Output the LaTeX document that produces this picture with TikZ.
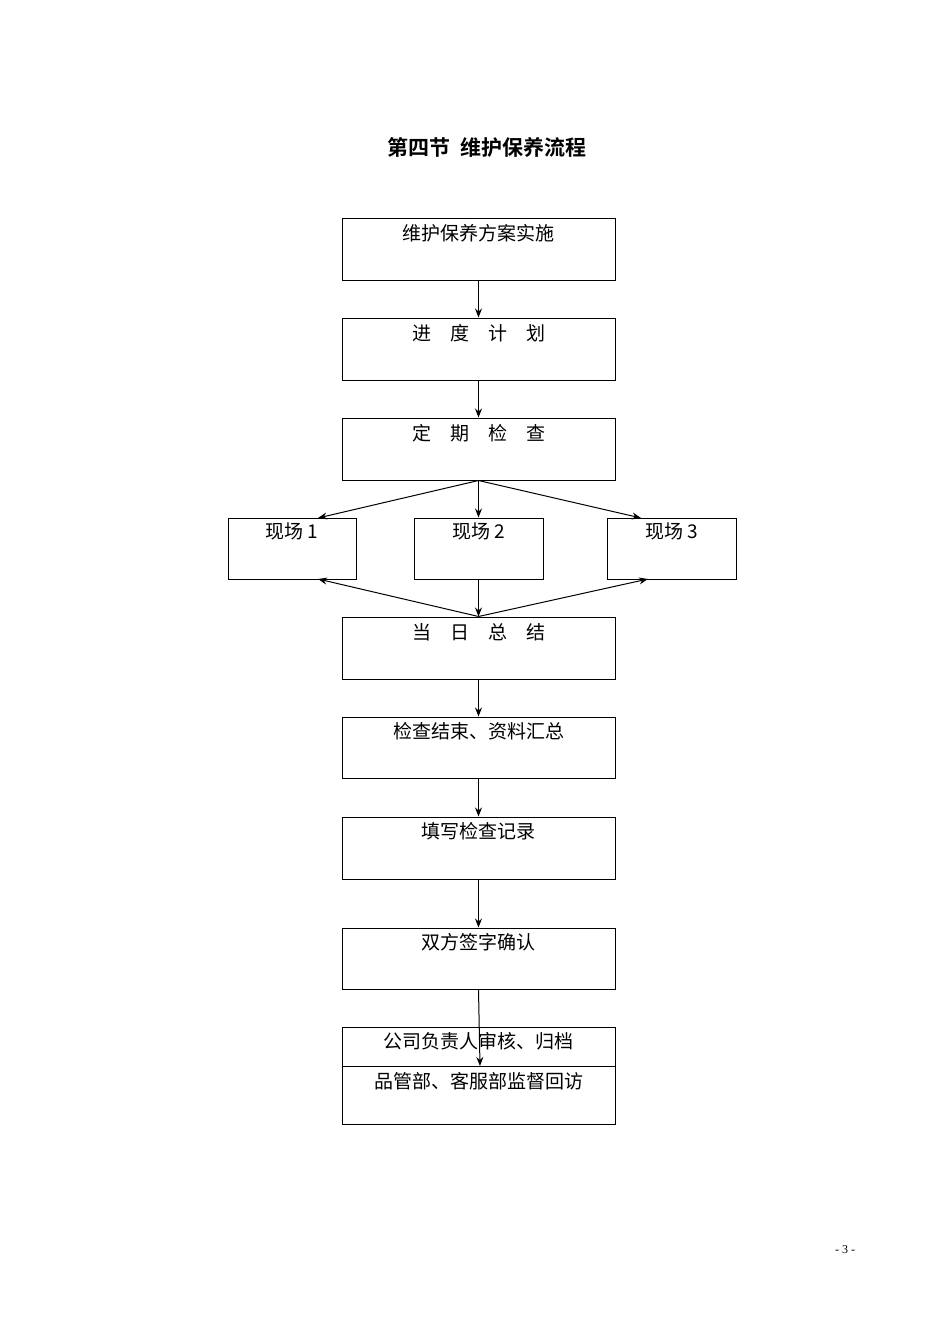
\documentclass[tikz,border=0pt]{standalone}
\usepackage{fontspec}
\setmainfont{Liberation Serif}
\newfontfamily\cjk{Noto Sans CJK SC}
\newfontfamily\cjkb{Noto Sans CJK SC Bold}
\usetikzlibrary{arrows.meta}
\begin{document}
\begin{tikzpicture}[x=1pt,y=-1pt,
  bx/.style={draw,line width=1pt,inner sep=0pt},
  lbl/.style={anchor=north,inner sep=0pt,font=\cjk\fontsize{19}{19}\selectfont},
  arr/.style={-{Stealth[length=9pt,width=7pt]},line width=1pt}]
\useasboundingbox (0,0) rectangle (950,1344);
\node[font=\cjkb\fontsize{21}{21}\selectfont] (title) at (487,147) {第四节\ \ 维护保养流程};
\node[bx,minimum width=273,minimum height=62] (a) at (478.5,249) {};
\node[lbl] at (478.5,224) {维护保养方案实施};
\node[bx,minimum width=273,minimum height=62] (b) at (478.5,349) {};
\node[lbl] at (478.5,324) {进\quad 度\quad 计\quad 划};
\node[bx,minimum width=273,minimum height=62] (c) at (478.5,449) {};
\node[lbl] at (478.5,424) {定\quad 期\quad 检\quad 查};
\node[bx,minimum width=128,minimum height=61] (s1) at (292,548.5) {};
\node[lbl] at (292,523) {现场 1};
\node[bx,minimum width=129,minimum height=61] (s2) at (478.5,548.5) {};
\node[lbl] at (478.5,523) {现场 2};
\node[bx,minimum width=129,minimum height=61] (s3) at (671.5,548.5) {};
\node[lbl] at (671.5,523) {现场 3};
\node[bx,minimum width=273,minimum height=62] (d) at (478.5,648) {};
\node[lbl] at (478.5,623) {当\quad 日\quad 总\quad 结};
\node[bx,minimum width=273,minimum height=61] (e) at (478.5,747.5) {};
\node[lbl] at (478.5,722) {检查结束、资料汇总};
\node[bx,minimum width=273,minimum height=62] (f) at (478.5,848) {};
\node[lbl] at (478.5,822) {填写检查记录};
\node[bx,minimum width=273,minimum height=61] (g) at (478.5,958.5) {};
\node[lbl] at (478.5,933) {双方签字确认};
\node[bx,minimum width=273,minimum height=39] (h) at (478.5,1046.5) {};
\node[lbl] at (478.5,1032) {公司负责人审核、归档};
\node[bx,minimum width=273,minimum height=58] (i) at (478.5,1095) {};
\node[lbl] at (478.5,1072) {品管部、客服部监督回访};
\coordinate (ct) at (480,1066);
\node[font=\fontsize{12}{12}\selectfont] (pg) at (845,1250) {- 3 -};
\draw[arr] (a.south) -- (b.north);
\draw[arr] (b.south) -- (c.north);
\draw[arr] (c.south) -- (s2.north);
\draw[arr] (c.south) -- (318,518);
\draw[arr] (c.south) -- (641,518);
\draw[arr] (s2.south) -- (d.north);
\draw[arr] (d.north) -- (318,579);
\draw[arr] (d.north) -- (648,579);
\draw[arr] (d.south) -- (e.north);
\draw[arr] (e.south) -- (f.north);
\draw[arr] (f.south) -- (g.north);
\draw[arr] (g.south) -- (ct);
\end{tikzpicture}
\end{document}
